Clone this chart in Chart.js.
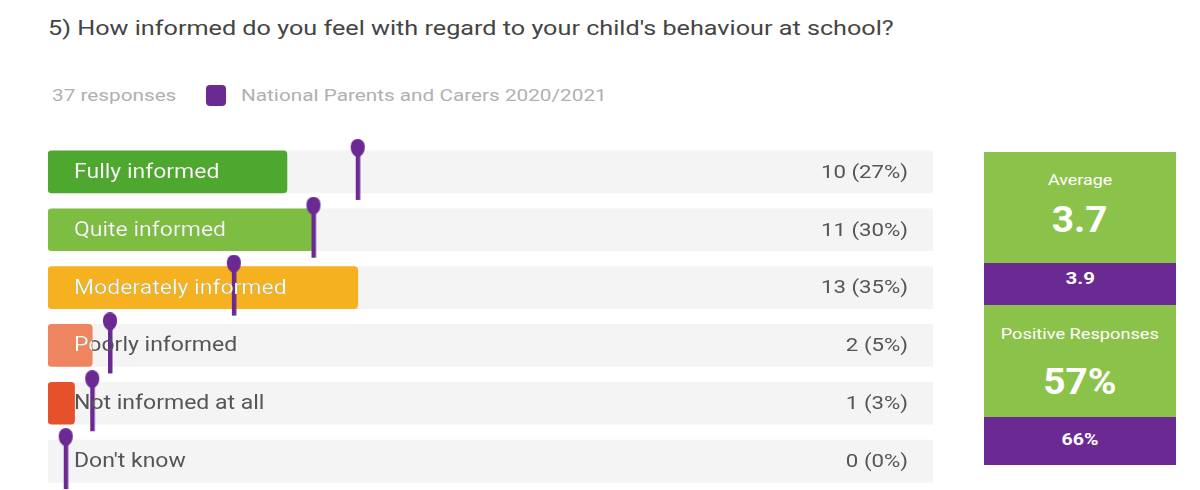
<!DOCTYPE html>
<html>
<head>
<meta charset="utf-8">
<script src="https://cdn.jsdelivr.net/npm/chart.js@4"></script>
<style>
  body { margin: 0; width: 1200px; height: 490px; background: #fff; font-family: Roboto, "Noto Sans", sans-serif; position: relative; overflow: hidden; }
  #title { position: absolute; left: 48px; top: 16px; font-size: 21px; color: #444; white-space: nowrap; transform: scaleX(1.2); transform-origin: left center; }
  #sub { position: absolute; left: 52px; top: 84px; height: 22px; font-size: 17px; color: #b0b0b0; }
  #sub span { position: absolute; top: 0; line-height: 22px; transform: scaleX(1.22); transform-origin: left center; white-space: nowrap; }
  #sub .sw { position: absolute; left: 154px; top: 1px; width: 20px; height: 21px; background: #6b2a93; border-radius: 4px; }
  #wrap { position: absolute; left: 48px; top: 133px; width: 885px; height: 357px; }
  #panel { position: absolute; left: 984px; top: 152px; width: 192px; color: #fff; text-align: center; }
  #panel > div { position: relative; }
  #panel .t { position: absolute; left: 0; right: 0; }
  #panel .t span { display: inline-block; white-space: nowrap; }
  .g { background: #8bc34a; }
  .p { background: #6b2a93; font-weight: bold; }
</style>
</head>
<body>
<div id="title">5) How informed do you feel with regard to your child's behaviour at school?</div>
<div id="sub"><span style="left:0">37 responses</span><div class="sw"></div><span style="left:189px">National Parents and Carers 2020/2021</span></div>
<div id="wrap"><canvas id="chart"></canvas></div>
<div id="panel">
  <div class="g" style="height:111px;">
    <div class="t" style="top:20px;font-size:14px;"><span style="transform:scaleX(1.28)">Average</span></div>
    <div class="t" style="top:46px;font-size:37px;font-weight:bold;"><span style="transform:scaleX(1.05)">3.7</span></div>
  </div>
  <div class="p" style="height:42px;">
    <div class="t" style="top:5px;font-size:17px;"><span style="transform:scaleX(1.2)">3.9</span></div>
  </div>
  <div class="g" style="height:112px;">
    <div class="t" style="top:21px;font-size:14px;"><span style="transform:scaleX(1.3)">Positive Responses</span></div>
    <div class="t" style="top:55px;font-size:37px;font-weight:bold;"><span style="transform:scaleX(1.05)">57%</span></div>
  </div>
  <div class="p" style="height:48px;">
    <div class="t" style="top:12px;font-size:17px;"><span style="transform:scaleX(1.15)">66%</span></div>
  </div>
</div>
<script>
const categories = ["Fully informed", "Quite informed", "Moderately informed", "Poorly informed", "Not informed at all", "Don't know"];
const counts = [10, 11, 13, 2, 1, 0];
const percents = [27, 30, 35, 5, 3, 0];
const nationalPercents = [35, 30, 21, 7, 5, 2];
const barColors = ["#4ea72e", "#7cbd42", "#f5b120", "#ef8460", "#e4512a", "rgba(0,0,0,0)"];
const trackValues = categories.map(() => 100);
const purple = "#6b2a93";

// lollipop marker image for national values
function makeMarker() {
  const c = document.createElement("canvas");
  c.width = 16;
  c.height = 66;
  const g = c.getContext("2d");
  g.fillStyle = purple;
  g.fillRect(6, 10, 4.5, 51);
  g.beginPath();
  g.moveTo(8, 19);
  g.bezierCurveTo(1, 15, 1, 11, 1, 7);
  g.arc(8, 7, 7, Math.PI, 0);
  g.bezierCurveTo(15, 11, 15, 15, 8, 19);
  g.fill();
  return c;
}

function stretchedText(ctx, text, x, y, sx) {
  ctx.save();
  ctx.translate(x, y);
  ctx.scale(sx, 1);
  ctx.fillText(text, 0, 0);
  ctx.restore();
}

const labelPlugin = {
  id: "rowLabels",
  afterDatasetsDraw(chart) {
    const ctx = chart.ctx;
    const x = chart.scales.x;
    const y = chart.scales.y;
    const bars = chart.getDatasetMeta(1).data;
    ctx.save();
    ctx.textBaseline = "middle";
    categories.forEach((name, i) => {
      const yc = y.getPixelForValue(i);
      const tx = x.getPixelForValue(0) + 26;
      ctx.font = "20px Roboto";
      ctx.textAlign = "left";
      ctx.fillStyle = "#555";
      stretchedText(ctx, name, tx, yc + 1, 1.15);
      // white part of the label over the coloured bar
      const b = bars[i];
      ctx.save();
      ctx.beginPath();
      ctx.rect(b.base, yc - 21, b.x - b.base, 42);
      ctx.clip();
      ctx.fillStyle = "#f2fbe9";
      stretchedText(ctx, name, tx, yc + 1, 1.15);
      ctx.restore();
      ctx.font = "19px Roboto";
      ctx.textAlign = "right";
      ctx.fillStyle = "#555";
      stretchedText(ctx, counts[i] + " (" + percents[i] + "%)", x.getPixelForValue(100) - 25, yc + 1, 1.17);
    });
    ctx.restore();
  }
};

new Chart(document.getElementById("chart"), {
  data: {
    labels: categories,
    datasets: [
      {
        type: "bar",
        data: trackValues,
        backgroundColor: "#f4f4f4",
        barThickness: 42,
        grouped: false,
        order: 3
      },
      {
        type: "bar",
        data: percents,
        backgroundColor: barColors,
        barThickness: 42,
        borderRadius: 4,
        borderSkipped: false,
        grouped: false,
        order: 2
      },
      {
        type: "scatter",
        data: nationalPercents.map((v, i) => ({ x: v, y: i })),
        pointStyle: makeMarker(),
        order: 0,
        clip: false
      }
    ]
  },
  plugins: [labelPlugin],
  options: {
    indexAxis: "y",
    responsive: true,
    maintainAspectRatio: false,
    animation: false,
    layout: { padding: { top: 10, left: 0, right: 0, bottom: 0 }, autoPadding: false },
    plugins: { legend: { display: false }, tooltip: { enabled: false } },
    scales: {
      x: { display: false, min: 0, max: 100 },
      y: { type: "category", display: false, offset: true }
    }
  }
});
</script>
</body>
</html>
